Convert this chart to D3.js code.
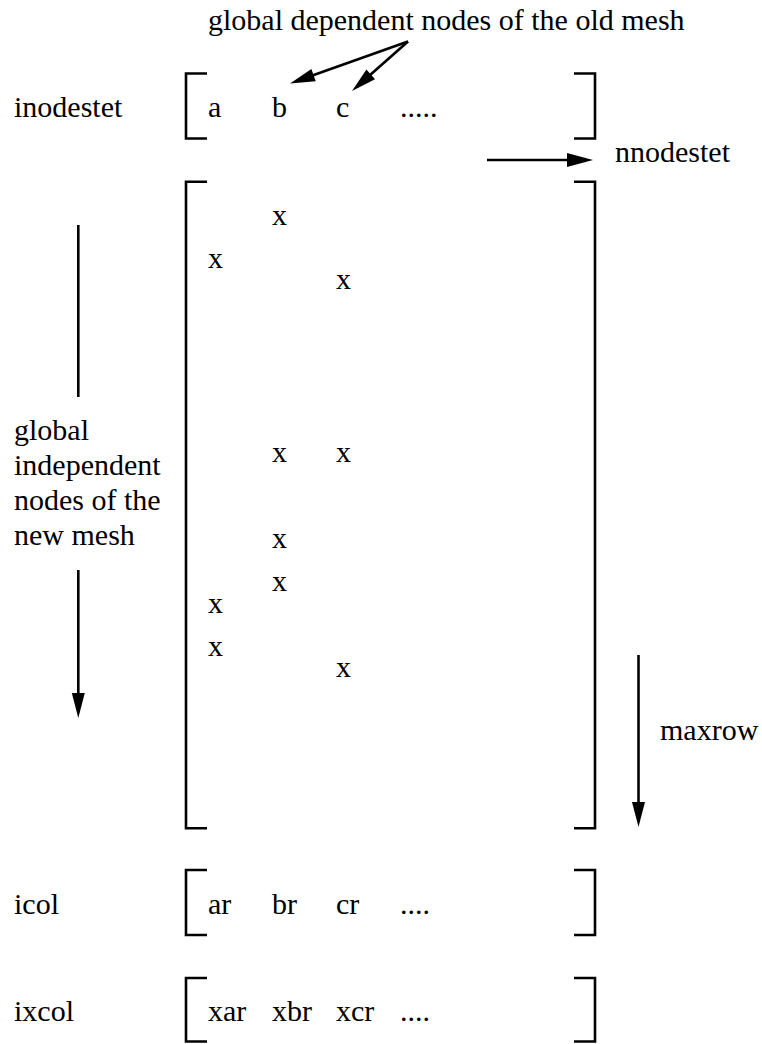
<!DOCTYPE html>
<html><head><meta charset="utf-8">
<script src="https://cdn.jsdelivr.net/npm/d3@7"></script>
<style>
html,body{margin:0;padding:0;background:#fff}svg{display:block}
text{font-family:"Liberation Serif","DejaVu Serif",Times,serif;font-size:30px;fill:#000}
</style>
</head><body>
<script>
// ---- data ----
const title = "global dependent nodes of the old mesh";
const vectorLabels = ["inodestet", "icol", "ixcol"];
const vectorEntries = [
  ["a", "b", "c", "....."],
  ["ar", "br", "cr", "...."],
  ["xar", "xbr", "xcr", "...."]
];
const sideLabelLines = ["global", "independent", "nodes of the", "new mesh"];
const countLabels = ["nnodestet", "maxrow"];
// sparse matrix entries: column index (0=a,1=b,2=c), row position (in row units)
const markCols = [1, 0, 2, 1, 2, 1, 1, 0, 0, 2];
const markRows = [2, 4, 5, 13, 13, 17, 19, 20, 22, 23];

const W = 762, H = 1044;
const svg = d3.select("body").append("svg").attr("width", W).attr("height", H);

// scales
const colX = d3.scaleLinear().domain([0, 3]).range([208, 400]);
const rowY = d3.scaleLinear().domain([0, 30]).range([181.7, 828.3]); // big matrix rows
const brLeft = 186, brRight = 595, brTick = 21;
const vecBrackets = [[73.5, 138.5], [870, 935], [978, 1041.5]];

const lw = 2.6;
function bracket(y0, y1) {
  svg.append("path")
    .attr("d", `M${brLeft + brTick},${y0}H${brLeft}V${y1}H${brLeft + brTick}`)
    .attr("fill", "none").attr("stroke", "#000").attr("stroke-width", lw);
  svg.append("path")
    .attr("d", `M${brRight - brTick},${y0}H${brRight}V${y1}H${brRight - brTick}`)
    .attr("fill", "none").attr("stroke", "#000").attr("stroke-width", lw);
}
function arrow(x1, y1, x2, y2, len = 25, hw = 6.5) {
  const dx = x2 - x1, dy = y2 - y1, L = Math.hypot(dx, dy);
  const ux = dx / L, uy = dy / L;
  const bx = x2 - ux * len, by = y2 - uy * len;
  svg.append("line").attr("x1", x1).attr("y1", y1).attr("x2", bx + ux * 2).attr("y2", by + uy * 2)
    .attr("stroke", "#000").attr("stroke-width", lw);
  svg.append("path")
    .attr("d", `M${x2},${y2}L${bx - uy * hw},${by + ux * hw}L${bx + uy * hw},${by - ux * hw}Z`)
    .attr("fill", "#000");
}
function text(x, y, s) {
  svg.append("text").attr("x", x).attr("y", y).text(s);
}

// title
text(208, 30, title);

// vectors
vecBrackets.forEach(([y0, y1], i) => {
  bracket(y0, y1);
  const base = (y0 + y1) / 2 + 11;
  text(14, base, vectorLabels[i]);
  vectorEntries[i].forEach((e, j) => text(colX(j), base, e));
});

// big matrix
bracket(rowY(0), rowY(30));
markCols.forEach((c, i) => text(colX(c), rowY(markRows[i]), "x"));

// arrows from title to b and c
arrow(408, 41.5, 290, 83.5);
arrow(408, 41.5, 352, 91);

// nnodestet arrow
arrow(487, 160, 593, 160, 26, 7);
text(615, 162, countLabels[0]);

// maxrow arrow
arrow(638.5, 655, 638.5, 827);
text(660, 740, countLabels[1]);

// left side arrow with label
svg.append("line").attr("x1", 78.3).attr("y1", 225).attr("x2", 78.3).attr("y2", 397)
  .attr("stroke", "#000").attr("stroke-width", lw);
arrow(78.3, 570, 78.3, 718);
sideLabelLines.forEach((s, i) => text(14, 440 + i * 35, s));
</script>
</body></html>
